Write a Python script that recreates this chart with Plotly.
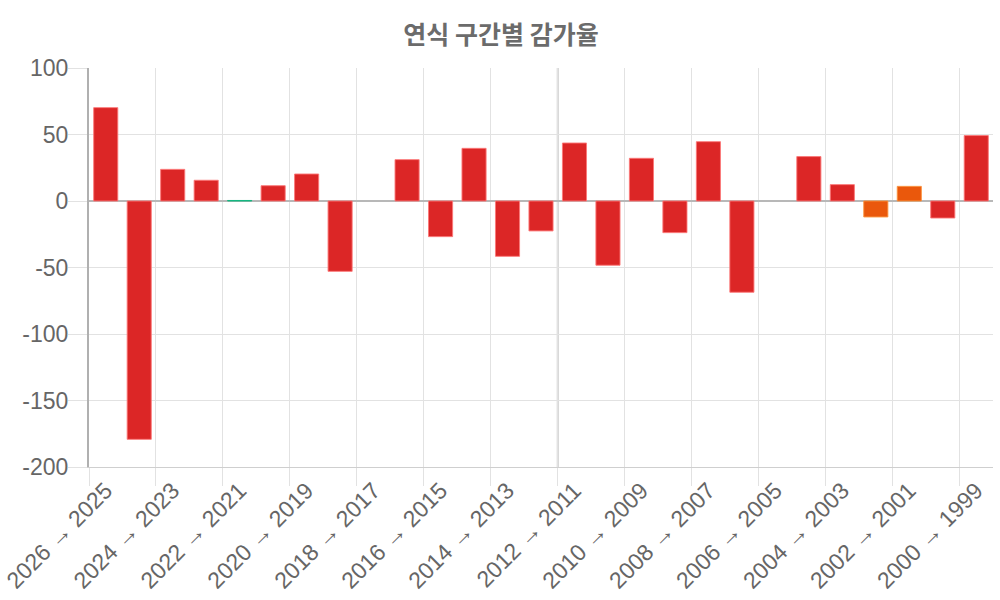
import plotly.graph_objects as go

categories = [f"{y} → {y-1}" for y in range(2026, 1999, -1)]
values = [70.2, -179.2, 23.8, 15.6, 0.4, 11.5, 20.3, -52.9, None, 31.1,
          -26.8, 39.6, -41.6, -22.5, 43.6, -48.3, 32.1, -23.8, 44.6, -68.6,
          None, 33.4, 12.3, -12.0, 11.0, -12.8, 49.2]
color_groups = ["r", "r", "r", "r", "g", "r", "r", "r", "r", "r",
                "r", "r", "r", "r", "r", "r", "r", "r", "r", "r",
                "r", "r", "r", "o", "o", "r", "r"]
y_ticks = [-200, -150, -100, -50, 0, 50, 100]
y_tick_labels = ["-200", "-150", "-100", "-50", "0", "50", "100"]
palette = {"r": "#dc2626", "o": "#ea580c", "g": "#059669"}
border = {"r": "rgba(252,120,120,0.9)", "o": "rgba(251,146,60,0.9)", "g": "rgba(16,185,129,0.9)"}
title = "연식 구간별 감가율"

fig = go.Figure(go.Bar(
    x=categories, y=values,
    marker=dict(color=[palette[c] for c in color_groups],
                line=dict(color=[border[c] for c in color_groups], width=1)),
))

fig.update_layout(
    width=1000, height=600,
    margin=dict(l=89, r=7, t=68, b=133),
    paper_bgcolor="white", plot_bgcolor="white",
    bargap=0.28,
    showlegend=False,
    title=dict(text=f"<b>{title}</b>", x=0.501, xanchor="center", y=0.942, yanchor="middle",
               font=dict(family="Noto Sans CJK KR", size=25, color="#6b6b6b")),
    font=dict(family="Liberation Sans", color="#666666"),
)
fig.update_xaxes(
    type="category", tickson="boundaries", dtick=2, automargin=False,
    tickangle=-45, tickfont=dict(size=23, color="#666666"),
    showgrid=True, gridcolor="#e2e2e2", gridwidth=1,
    ticks="outside", ticklen=18, tickcolor="#e2e2e2",
    showline=True, linecolor="#cfcfcf", linewidth=1,
)
fig.update_yaxes(
    range=[-200, 100], tickvals=y_ticks, ticktext=y_tick_labels, automargin=False,
    tickfont=dict(size=23, color="#666666"),
    showgrid=True, gridcolor="#e2e2e2", gridwidth=1,
    ticks="outside", ticklen=19, tickcolor="#e2e2e2",
    ticklabelstandoff=-5,
    zeroline=True, zerolinecolor="#b8b8b8", zerolinewidth=2,
    showline=True, linecolor="#b0b0b0", linewidth=2,
)
fig.add_shape(type="line", xref="x", yref="paper", x0=13.5, x1=13.5, y0=0, y1=1,
              line=dict(color="#cccccc", width=2), layer="below")

fig.write_html("out.html")
